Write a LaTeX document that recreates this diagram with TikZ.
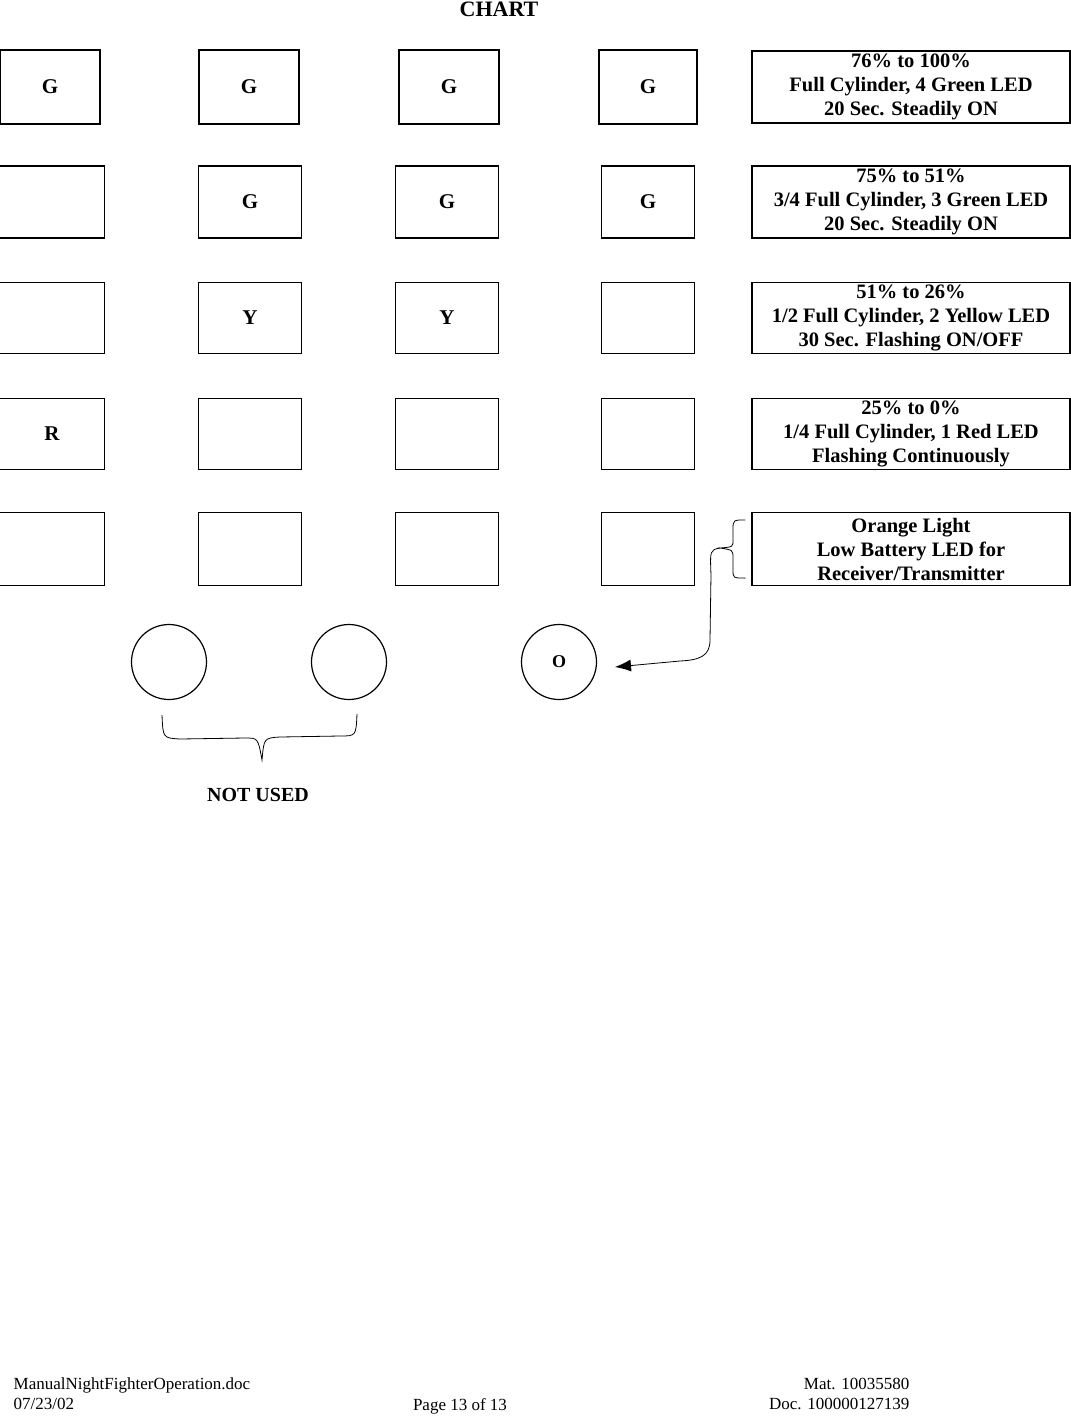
\documentclass[tikz,border=0pt]{standalone}
\usepackage{fontspec}
\setmainfont{Liberation Serif}
\usetikzlibrary{arrows.meta,calc}

\begin{document}
\begin{tikzpicture}[x=1pt, y=-1pt, thick, >=Latex]

  \tikzstyle{L}=[draw, line width=1.2pt, inner sep=0pt, font=\bfseries\fontsize{21}{22}\selectfont]
  \tikzstyle{T}=[draw, line width=1.2pt, inner sep=0pt, minimum width=318pt, minimum height=72pt, align=center, font=\bfseries\fontsize{20.5}{24}\selectfont]
  \tikzstyle{O}=[draw, circle, line width=1.2pt, minimum size=75pt, inner sep=0pt, font=\bfseries\fontsize{18}{20}\selectfont]
  \tikzstyle{F}=[font=\fontsize{17}{20}\selectfont, align=left, anchor=north west]

  \useasboundingbox (0,0) rectangle (1071,1417);

  \node[font=\bfseries\fontsize{22}{22}\selectfont] (title) at (499,9) {CHART};

  % row 1
  \node[L, minimum width=100pt, minimum height=74pt] at (50,87) (a1) {G};
  \node[L, minimum width=100pt, minimum height=74pt] at (249,87) (b1) {G};
  \node[L, minimum width=100pt, minimum height=74pt] at (449,87) (c1) {G};
  \node[L, minimum width=98pt, minimum height=74pt] at (648,87) (d1) {G};
  \node[T] at (911,87) (t1) {76\% to 100\%\\Full Cylinder, 4 Green LED\\20 Sec. Steadily ON};

  % row 2
  \node[L, minimum width=105pt, minimum height=72pt] at (52,202) (a2) {};
  \node[L, minimum width=103pt, minimum height=72pt] at (250,202) (b2) {G};
  \node[L, minimum width=103pt, minimum height=72pt] at (447,202) (c2) {G};
  \node[L, minimum width=93pt, minimum height=72pt] at (648,202) (d2) {G};
  \node[T] at (911,202) (t2) {75\% to 51\%\\3/4 Full Cylinder, 3 Green LED\\20 Sec. Steadily ON};

  % row 3
  \node[L, minimum width=105pt, minimum height=71pt] at (52,318) (a3) {};
  \node[L, minimum width=103pt, minimum height=71pt] at (250,318) (b3) {Y};
  \node[L, minimum width=103pt, minimum height=71pt] at (447,318) (c3) {Y};
  \node[L, minimum width=93pt, minimum height=71pt] at (648,318) (d3) {};
  \node[T, minimum height=71pt] at (911,318) (t3) {51\% to 26\%\\1/2 Full Cylinder, 2 Yellow LED\\30 Sec. Flashing ON/OFF};

  % row 4
  \node[L, minimum width=105pt, minimum height=71pt] at (52,434) (a4) {R};
  \node[L, minimum width=103pt, minimum height=71pt] at (250,434) (b4) {};
  \node[L, minimum width=103pt, minimum height=71pt] at (447,434) (c4) {};
  \node[L, minimum width=93pt, minimum height=71pt] at (648,434) (d4) {};
  \node[T, minimum height=71pt] at (911,434) (t4) {25\% to 0\%\\1/4 Full Cylinder, 1 Red LED\\Flashing Continuously};

  % row 5
  \node[L, minimum width=105pt, minimum height=73pt] at (52,549) (a5) {};
  \node[L, minimum width=103pt, minimum height=73pt] at (250,549) (b5) {};
  \node[L, minimum width=103pt, minimum height=73pt] at (447,549) (c5) {};
  \node[L, minimum width=93pt, minimum height=73pt] at (648,549) (d5) {};
  \node[T, minimum height=73pt] at (911,549) (t5) {Orange Light\\Low Battery LED for\\Receiver/Transmitter};

  % circles
  \node[O] at (169,662) (n1) {};
  \node[O] at (349,662) (n2) {};
  \node[O] at (559,662) (lamp) {O};

  \node[font=\bfseries\fontsize{20}{22}\selectfont] at (258,795) (unused) {NOT USED};

  % braces
  \draw (162,715) .. controls (163,738) .. (180,739) -- (245,738)
        .. controls (258,738) .. (262,760)
        .. controls (264,738) .. (280,737) -- (340,736)
        .. controls (356,736) .. (357,714);
  \coordinate (tip) at (720,548);
  \coordinate (btop) at ($(t5.north west)+(-6,8)$);
  \coordinate (bbot) at ($(t5.south west)+(-6,-8)$);
  \coordinate (lampin) at (615,667);
  \draw (btop) .. controls (733,520) .. (733,530) -- (733,540)
        .. controls (733,547) .. (tip) .. controls (733,550) .. (733,558) -- (733,570)
        .. controls (733,578) .. (bbot);
  \draw[-{Latex[length=16pt,width=12pt]}] (tip) .. controls (710,550) .. (711,575) -- (710,640)
        .. controls (710,656) and (700,660) .. (680,661) -- (lampin);
  % footer
  \node[F] at (10,1374) (doc) {ManualNightFighterOperation.doc\\07/23/02};
  \node[font=\fontsize{17}{20}\selectfont] at (460,1406) (page) {Page 13 of 13};
  \node[F, align=right, anchor=north east] at (913,1374) (mat) {Mat. 10035580\\Doc. 100000127139};

\end{tikzpicture}
\end{document}
